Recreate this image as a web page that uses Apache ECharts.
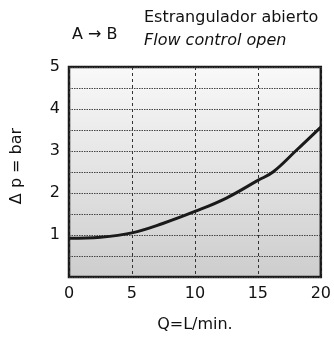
<!DOCTYPE html>
<html>
<head>
<meta charset="utf-8">
<script src="https://cdn.jsdelivr.net/npm/echarts@6/dist/echarts.min.js"></script>
<style>html,body{margin:0;padding:0;background:#fff}#c{width:334px;height:338px}</style>
</head>
<body>
<div id="c"></div>
<script>
const flow = [0, 2.5, 5, 7.5, 10, 12.5, 15, 16.2, 18, 20];
const pressure = [0.92, 0.945, 1.05, 1.28, 1.56, 1.88, 2.3, 2.5, 3.0, 3.57];
const xTicks = [0, 5, 10, 15, 20];
const yTicks = [1, 2, 3, 4, 5];
const titleLine1 = 'Estrangulador abierto';
const titleLine2 = 'Flow control open';
const routeLabel = 'A \u2192 B';
const xName = 'Q=L/min.';
const yName = '\u0394 p = bar';

const FONT = '"DejaVu Sans", "Liberation Sans", Arial, sans-serif';
const chart = echarts.init(document.getElementById('c'), null, {renderer: 'canvas'});
chart.setOption({
  animation: false,
  textStyle: {fontFamily: FONT},
  grid: {
    left: 69, right: 7, top: 67, bottom: 55,
    show: true,
    borderColor: '#1a1a1a', borderWidth: 2.5,
    backgroundColor: new echarts.graphic.LinearGradient(0, 0, 0, 1, [
      {offset: 0, color: '#f9f9f9'},
      {offset: 1, color: '#cdcdcd'}
    ])
  },
  graphic: [
    {type: 'text', left: 72, top: 27, style: {text: routeLabel, font: '16px ' + FONT, fill: '#111'}},
    {type: 'text', left: 144, top: 10, style: {text: titleLine1, font: '16px ' + FONT, fill: '#111'}},
    {type: 'text', left: 144, top: 33, style: {text: titleLine2, font: 'italic 16px ' + FONT, fill: '#111'}}
  ],
  xAxis: {
    type: 'value', min: 0, max: 20, interval: 5,
    name: xName, nameLocation: 'middle', nameGap: 40,
    nameTextStyle: {fontSize: 16, color: '#111', fontFamily: FONT, verticalAlign: 'top'},
    axisLine: {show: false}, axisTick: {show: false},
    axisLabel: {fontSize: 16, color: '#111', margin: 9, fontFamily: FONT,
      formatter: v => xTicks.includes(v) ? String(v) : ''},
    splitLine: {show: true, lineStyle: {color: '#333', type: [3, 3], width: 1}}
  },
  yAxis: {
    type: 'value', min: 0, max: 5, interval: 0.5,
    name: yName, nameLocation: 'middle', nameGap: 44, nameRotate: 90,
    nameTextStyle: {fontSize: 16, color: '#111', fontFamily: FONT, padding: [0, 0, 0, 12]},
    axisLine: {show: false}, axisTick: {show: false},
    axisLabel: {fontSize: 16, color: '#111', margin: 9, fontFamily: FONT,
      formatter: v => yTicks.includes(v) ? String(v) : ''},
    splitLine: {show: true, lineStyle: {color: '#444', type: [1.5, 1], width: 1}}
  },
  series: [{
    type: 'line',
    data: flow.map((q, i) => [q, pressure[i]]),
    smooth: 0.4,
    symbol: 'none',
    lineStyle: {color: '#1a1a1a', width: 3}
  }]
});
</script>
</body>
</html>
